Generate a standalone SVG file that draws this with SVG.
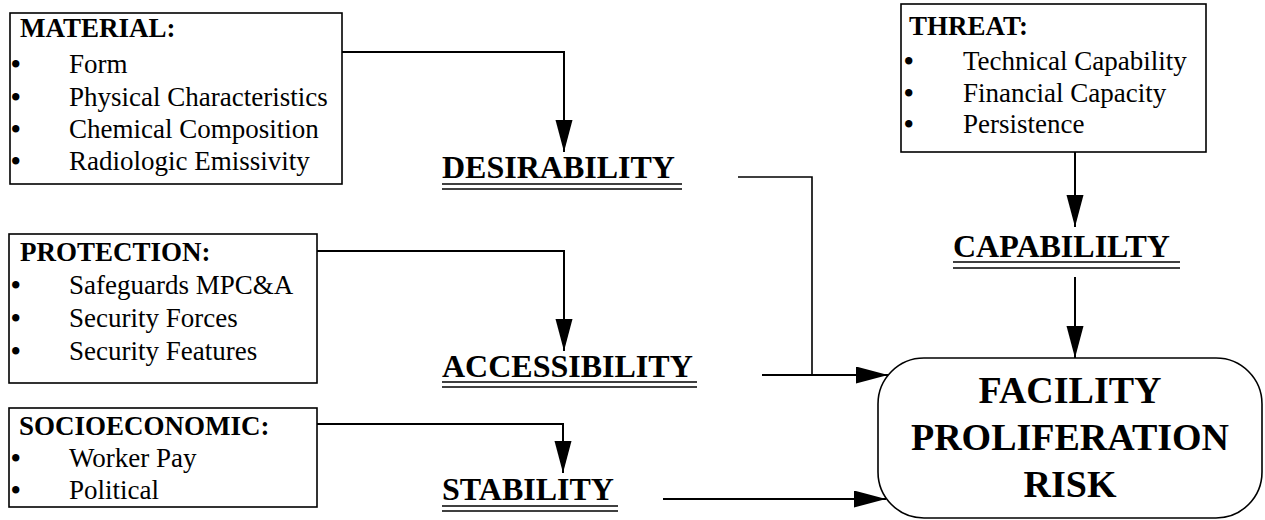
<svg xmlns="http://www.w3.org/2000/svg" width="1265" height="520" viewBox="0 0 1265 520">
<defs>
<marker id="ah" markerUnits="userSpaceOnUse" markerWidth="32" markerHeight="18" refX="32" refY="8.5" orient="auto">
<path d="M0,0 L32,8.5 L0,17 Z" fill="#000"/>
</marker>
<style>
.box{fill:#fff;stroke:#000;stroke-width:1.6}
.hdr{font-family:"Liberation Serif","Times New Roman",serif;font-weight:bold;font-size:27px;fill:#000}
.itm{font-family:"Liberation Serif","Times New Roman",serif;font-size:27px;fill:#000}
.bul{font-family:"Liberation Serif","Times New Roman",serif;font-size:27px;font-weight:bold;fill:#000}
.lbl{font-family:"Liberation Serif","Times New Roman",serif;font-weight:bold;font-size:32px;fill:#000}
.big{font-family:"Liberation Serif","Times New Roman",serif;font-weight:bold;font-size:38px;fill:#000}
.ul{stroke:#000;stroke-width:1.6}
.con{fill:none;stroke:#000;stroke-width:2}
</style>
</defs>
<rect width="1265" height="520" fill="#fff"/>

<g id="connectors">
<path class="con" d="M342,52 H564 V152" marker-end="url(#ah)"/>
<path class="con" d="M317,251 H564 V351" marker-end="url(#ah)"/>
<path class="con" d="M317,424 H563 V473" marker-end="url(#ah)"/>
<path class="con" d="M1075,152 V227" marker-end="url(#ah)"/>
<path class="con" d="M1075,277 V358" marker-end="url(#ah)"/>
<path class="con" d="M738,177 H812 V375" style="stroke-width:1.6"/>
<path class="con" d="M762,375 H888" marker-end="url(#ah)"/>
<path class="con" d="M663,499 H886" marker-end="url(#ah)"/>
</g>

<g id="material">
<rect class="box" x="10" y="13" width="332" height="171"/>
<text class="hdr" x="20" y="37">MATERIAL:</text>
<text class="bul" x="11" y="73">•</text><text class="itm" x="69" y="73">Form</text>
<text class="bul" x="11" y="106">•</text><text class="itm" x="69" y="106">Physical Characteristics</text>
<text class="bul" x="11" y="138">•</text><text class="itm" x="69" y="138">Chemical Composition</text>
<text class="bul" x="11" y="170">•</text><text class="itm" x="69" y="170">Radiologic Emissivity</text>
</g>

<g id="protection">
<rect class="box" x="9" y="234" width="308" height="149"/>
<text class="hdr" x="20" y="261">PROTECTION:</text>
<text class="bul" x="11" y="294">•</text><text class="itm" x="69" y="294">Safeguards MPC&amp;A</text>
<text class="bul" x="11" y="327">•</text><text class="itm" x="69" y="327">Security Forces</text>
<text class="bul" x="11" y="360">•</text><text class="itm" x="69" y="360">Security Features</text>
</g>

<g id="socioeconomic">
<rect class="box" x="9" y="408" width="308" height="99"/>
<text class="hdr" x="19" y="435">SOCIOECONOMIC:</text>
<text class="bul" x="11" y="467">•</text><text class="itm" x="69" y="467">Worker Pay</text>
<text class="bul" x="11" y="499">•</text><text class="itm" x="69" y="499">Political</text>
</g>

<g id="threat">
<rect class="box" x="901" y="4" width="305" height="148"/>
<text class="hdr" x="909" y="35">THREAT:</text>
<text class="bul" x="904" y="70">•</text><text class="itm" x="963" y="70">Technical Capability</text>
<text class="bul" x="904" y="102">•</text><text class="itm" x="963" y="102">Financial Capacity</text>
<text class="bul" x="904" y="133">•</text><text class="itm" x="963" y="133">Persistence</text>
</g>

<g id="desirability">
<text class="lbl" x="442" y="178">DESIRABILITY</text>
<line class="ul" x1="442" y1="184" x2="682" y2="184"/>
<line class="ul" x1="442" y1="189" x2="682" y2="189"/>
</g>

<g id="accessibility">
<text class="lbl" x="442" y="377">ACCESSIBILITY</text>
<line class="ul" x1="442" y1="382" x2="697" y2="382"/>
<line class="ul" x1="442" y1="387" x2="697" y2="387"/>
</g>

<g id="stability">
<text class="lbl" x="442" y="500">STABILITY</text>
<line class="ul" x1="442" y1="506" x2="618" y2="506"/>
<line class="ul" x1="442" y1="511" x2="618" y2="511"/>
</g>

<g id="capability">
<text class="lbl" x="953" y="257">CAPABILILTY</text>
<line class="ul" x1="953" y1="262" x2="1180" y2="262"/>
<line class="ul" x1="953" y1="268" x2="1180" y2="268"/>
</g>

<g id="facility-risk">
<rect class="box" x="878" y="358" width="384" height="160" rx="46" ry="46"/>
<text class="big" x="1070" y="403" text-anchor="middle">FACILITY</text>
<text class="big" x="1070" y="450" text-anchor="middle">PROLIFERATION</text>
<text class="big" x="1070" y="497" text-anchor="middle">RISK</text>
</g>
</svg>
